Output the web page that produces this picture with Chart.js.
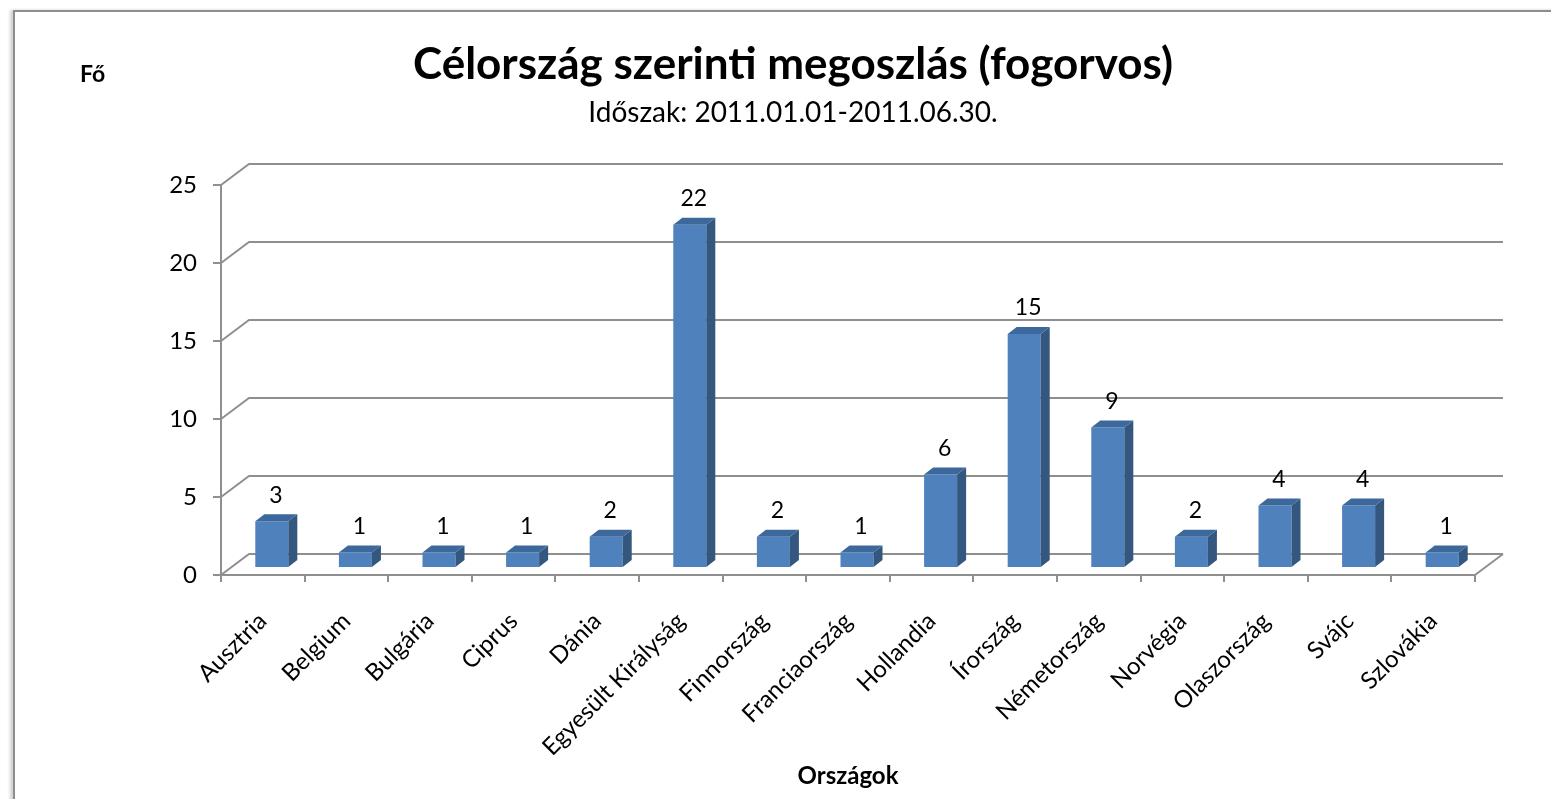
<!DOCTYPE html>
<html>
<head>
<meta charset="utf-8">
<script src="https://cdn.jsdelivr.net/npm/chart.js@4.4.0/dist/chart.umd.min.js"></script>
<style>
  html, body { margin: 0; padding: 0; background: #fff; }
  #frame {
    position: absolute; left: 13px; top: 10px; width: 1560px; height: 820px;
    border: 2px solid #8d8d8d; box-shadow: -3px 0 3px rgba(0,0,0,0.18);
  }
  #wrap { position: absolute; left: 0; top: 0; width: 1551px; height: 799px; }
</style>
</head>
<body>
<div id="frame"></div>
<div id="wrap"><canvas id="chart"></canvas></div>
<script>
// --- chart data ---
const countries = ["Ausztria", "Belgium", "Bulgária", "Ciprus", "Dánia", "Egyesült Királyság",
    "Finnország", "Franciaország", "Hollandia", "Írország", "Németország", "Norvégia",
    "Olaszország", "Svájc", "Szlovákia"];
const dentists = [3, 1, 1, 1, 2, 22, 2, 1, 6, 15, 9, 2, 4, 4, 1];
const yTicks = [0, 5, 10, 15, 20, 25];

const titleText = "Célország szerinti megoszlás (fogorvos)";
const subtitleText = "Időszak: 2011.01.01-2011.06.30.";
const yUnit = "Fő";
const xAxisTitle = "Országok";

// 3D depth offsets (back wall and bar shift)
const WALL = { dx: 28, dy: -21 };
const SHIFT = { dx: 9, dy: -7 };
const BAR_DEPTH = { dx: 9, dy: -7 };
const GRID_COLOR = "#8f8f8f";
const FONT = "Lato, 'Liberation Sans', sans-serif";

// back wall, side wall and floor lines
const wallPlugin = {
    id: "wall",
    beforeDatasetsDraw(chart) {
        const { ctx, scales: { x, y } } = chart;
        const left = x.left, right = x.right;
        ctx.save();
        ctx.strokeStyle = GRID_COLOR;
        ctx.lineWidth = 2;
        yTicks.forEach(v => {
            const py = y.getPixelForValue(v);
            ctx.beginPath();
            ctx.moveTo(left, py);
            ctx.lineTo(left + WALL.dx, py + WALL.dy);
            ctx.lineTo(right + WALL.dx, py + WALL.dy);
            ctx.stroke();
        });
        // floor right edge
        const p0 = y.getPixelForValue(0);
        ctx.beginPath();
        ctx.moveTo(right, p0);
        ctx.lineTo(right + WALL.dx, p0 + WALL.dy);
        ctx.stroke();
        ctx.restore();

        // shift bars into the middle of the depth
        ctx.save();
        ctx.translate(SHIFT.dx, SHIFT.dy);
    },
    afterDatasetsDraw(chart) {
        const { ctx } = chart;
        const meta = chart.getDatasetMeta(0);
        meta.data.forEach((bar, i) => {
            const w = bar.width;
            const xl = bar.x - w / 2, xr = bar.x + w / 2;
            const top = bar.y, base = bar.base;
            // side face
            ctx.fillStyle = "#34577f";
            ctx.beginPath();
            ctx.moveTo(xr, base);
            ctx.lineTo(xr + BAR_DEPTH.dx, base + BAR_DEPTH.dy);
            ctx.lineTo(xr + BAR_DEPTH.dx, top + BAR_DEPTH.dy);
            ctx.lineTo(xr, top);
            ctx.closePath();
            ctx.fill();
            // top face
            ctx.fillStyle = "#3d689b";
            ctx.beginPath();
            ctx.moveTo(xl, top);
            ctx.lineTo(xl + BAR_DEPTH.dx, top + BAR_DEPTH.dy);
            ctx.lineTo(xr + BAR_DEPTH.dx, top + BAR_DEPTH.dy);
            ctx.lineTo(xr, top);
            ctx.closePath();
            ctx.fill();
            // value label
            ctx.fillStyle = "#000";
            ctx.font = "23px " + FONT;
            ctx.textAlign = "center";
            ctx.textBaseline = "middle";
            ctx.fillText(String(dentists[i]), bar.x + 4, top - 26);
        });
        ctx.restore();
    },
    afterDraw(chart) {
        const { ctx, scales: { x } } = chart;
        ctx.save();
        ctx.fillStyle = "#000";
        ctx.font = "bold 23px " + FONT;
        ctx.textAlign = "left";
        ctx.textBaseline = "middle";
        ctx.fillText(yUnit, 80, 75);
        ctx.font = "bold 24px " + FONT;
        ctx.textAlign = "center";
        ctx.fillText(xAxisTitle, (x.left + x.right) / 2, 776);
        ctx.restore();
    }
};

new Chart(document.getElementById("chart"), {
    type: "bar",
    data: {
        labels: countries,
        datasets: [{
            data: dentists,
            backgroundColor: "#4f81bd",
            borderWidth: 0,
            categoryPercentage: 1,
            barPercentage: 0.395
        }]
    },
    options: {
        responsive: true,
        maintainAspectRatio: false,
        animation: false,
        layout: { padding: { left: 111, right: 76, top: 0, bottom: 44 } },
        plugins: {
            legend: { display: false },
            tooltip: { enabled: false },
            title: {
                display: true,
                text: titleText,
                color: "#000",
                font: { family: FONT, size: 44, weight: "bold", lineHeight: 1.2 },
                padding: { top: 38.6, bottom: 0 }
            },
            subtitle: {
                display: true,
                text: subtitleText,
                color: "#000",
                font: { family: FONT, size: 28, lineHeight: 1.2 },
                padding: { top: 4.8, bottom: 55.2 }
            }
        },
        scales: {
            x: {
                afterFit(scale) { scale.height = 180; },
                grid: { offset: true, drawOnChartArea: false, tickLength: 7, color: GRID_COLOR, lineWidth: 2 },
                border: { color: GRID_COLOR, width: 2 },
                ticks: { color: "#000", font: { family: FONT, size: 24 }, maxRotation: 45, minRotation: 45, padding: 25 }
            },
            y: {
                min: 0,
                max: 25,
                afterFit(scale) { scale.width = 110; },
                afterBuildTicks(scale) { scale.ticks = yTicks.map(v => ({ value: v })); },
                grid: { drawOnChartArea: false, tickLength: 8, color: GRID_COLOR, lineWidth: 2 },
                border: { color: GRID_COLOR, width: 2 },
                ticks: { color: "#000", font: { family: FONT, size: 24 }, padding: 16 }
            }
        }
    },
    plugins: [wallPlugin]
});
</script>
</body>
</html>
